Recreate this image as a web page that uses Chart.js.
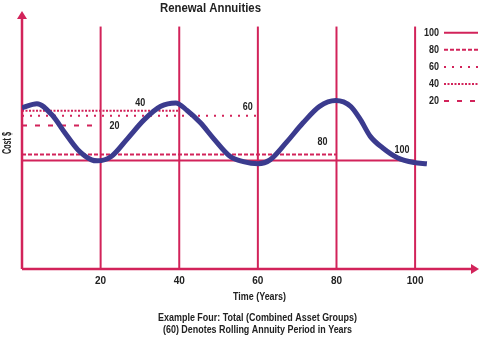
<!DOCTYPE html>
<html lang="en">
<head>
<meta charset="UTF-8">
<title>Renewal Annuities</title>
<script src="https://cdn.jsdelivr.net/npm/chart.js"></script>
<style>
  html, body { margin: 0; padding: 0; background: #fff; }
</style>
</head>
<body>
<canvas id="chart" width="484" height="339"></canvas>
<script>
// total cost curve (years, cost)
const years = [0, 3.8, 7.6, 10.9, 14.2, 17.7, 19.2, 22.7, 26.8, 31.1, 35.3, 39.1, 42.0, 45.4, 48.8, 53.0, 56.3, 60.1, 63.1, 67.2, 71.5, 75.7, 79.8, 83.6, 86.1, 88.6, 91.7, 95.5, 99.7, 103];
const cost = [66.5, 68.2, 63.6, 56.2, 49.2, 45.0, 44.6, 46.4, 53.7, 61.6, 67.1, 68.5, 65.4, 60.3, 53.7, 46.4, 44.3, 43.4, 45.0, 52.1, 60.3, 67.1, 69.5, 67.1, 61.6, 54.7, 50.0, 45.9, 43.9, 43.4];

// rolling annuity periods (years) and the flat cost level of each
const periods = [100, 80, 60, 40, 20];
const levels = [44.8, 47.2, 63.2, 65.3, 59.2];

// vertical period markers
const markerYears = [20, 40, 60, 80, 100];
const markerTop = 100;

const RED = '#d2235a';
const NAVY = '#3b3b8e';
const INK = '#222';
const NARROW = "'Liberation Sans Narrow', 'Arial Narrow', 'Liberation Sans', Arial, sans-serif";
const FONT = "'Liberation Sans', Arial, sans-serif";
const dashFor = { 100: [], 80: [4, 2], 60: [2, 6], 40: [2, 1.5], 20: [5, 8] };

const datasets = [];
datasets.push({
    label: 'Total',
    data: years.map((x, i) => ({ x: x, y: cost[i] })),
    borderColor: NAVY,
    borderWidth: 5,
    cubicInterpolationMode: 'monotone',
    pointRadius: 0,
    order: 0
});
periods.forEach((p, i) => {
    datasets.push({
        label: String(p),
        data: [{ x: 0, y: levels[i] }, { x: p, y: levels[i] }],
        borderColor: RED,
        borderWidth: 2,
        borderDash: dashFor[p],
        pointRadius: 0,
        order: 2
    });
});
markerYears.forEach(m => {
    datasets.push({
        label: 'm' + m,
        data: [{ x: m, y: 0 }, { x: m, y: markerTop }],
        borderColor: RED,
        borderWidth: 2,
        pointRadius: 0,
        order: 1
    });
});

function text(ctx, str, x, y, font, maxW, align) {
    ctx.font = font;
    ctx.textAlign = align || 'center';
    ctx.textBaseline = 'middle';
    ctx.fillStyle = INK;
    ctx.fillText(str, x, y, maxW);
}

const decor = {
    id: 'decor',
    beforeDatasetsDraw(chart) {
        const ctx = chart.ctx, a = chart.chartArea;
        ctx.save();
        ctx.strokeStyle = RED;
        ctx.fillStyle = RED;
        ctx.lineWidth = 2.5;
        ctx.beginPath();
        ctx.moveTo(a.left, a.bottom);
        ctx.lineTo(a.left, a.top + 4);
        ctx.moveTo(a.left, a.bottom);
        ctx.lineTo(a.right - 4, a.bottom);
        ctx.stroke();
        // arrow heads
        ctx.beginPath();
        ctx.moveTo(a.left, a.top - 1);
        ctx.lineTo(a.left - 5, a.top + 7);
        ctx.lineTo(a.left + 5, a.top + 7);
        ctx.closePath();
        ctx.fill();
        ctx.beginPath();
        ctx.moveTo(a.right + 1, a.bottom);
        ctx.lineTo(a.right - 7, a.bottom - 5);
        ctx.lineTo(a.right - 7, a.bottom + 5);
        ctx.closePath();
        ctx.fill();
        ctx.restore();
    },
    afterDraw(chart) {
        const ctx = chart.ctx, xs = chart.scales.x, ys = chart.scales.y;
        ctx.save();
        text(ctx, 'Renewal Annuities', 210.5, 8.5, 'bold 12.5px ' + FONT, 101);
        text(ctx, 'Time (Years)', 259.5, 297.5, 'bold 10.5px ' + FONT, 53);
        text(ctx, 'Example Four: Total (Combined Asset Groups)', 257.5, 318.5, 'bold 10.5px ' + FONT, 199);
        text(ctx, '(60) Denotes Rolling Annuity Period in Years', 257.5, 330.5, 'bold 10.5px ' + FONT, 189);

        ctx.save();
        ctx.translate(8, 143);
        ctx.rotate(-Math.PI / 2);
        text(ctx, 'Cost $', 0, 0, 'bold 12px ' + FONT, 22);
        ctx.restore();

        // period labels near the end of each level line
        const offs = { 100: [-13, -10], 80: [-14, -12], 60: [-10, -9], 40: [-39, -8], 20: [14, 1] };
        periods.forEach((p, i) => {
            const px = xs.getPixelForValue(p) + offs[p][0];
            const py = ys.getPixelForValue(levels[i]) + offs[p][1];
            text(ctx, String(p), px, py, 'bold 10.5px ' + FONT, p === 100 ? 15 : 10);
        });

        // legend
        periods.forEach((p, i) => {
            const ly = 32.7 + i * 17.1;
            text(ctx, String(p), 439, ly, 'bold 10.5px ' + FONT, p === 100 ? 15 : 10, 'right');
            ctx.strokeStyle = RED;
            ctx.lineWidth = 2;
            ctx.setLineDash(dashFor[p]);
            ctx.beginPath();
            ctx.moveTo(444, ly);
            ctx.lineTo(478, ly);
            ctx.stroke();
        });
        ctx.setLineDash([]);
        ctx.restore();
    }
};

new Chart(document.getElementById('chart'), {
    type: 'line',
    data: { datasets: datasets },
    options: {
        responsive: false,
        animation: false,
        layout: { padding: { top: 12, right: 2, left: 22, bottom: 0 } },
        plugins: { legend: { display: false }, tooltip: { enabled: false } },
        scales: {
            x: {
                type: 'linear',
                min: 0,
                max: 116,
                grid: { display: false, drawTicks: false },
                border: { display: false },
                ticks: {
                    stepSize: 20,
                    autoSkip: false,
                    maxRotation: 0,
                    padding: 6,
                    color: INK,
                    font: { family: NARROW, size: 10, weight: 'bold' },
                    callback: v => (v > 0 && v <= 100) ? v : ''
                },
                afterFit: s => { s.height = 70; }
            },
            y: {
                display: false,
                min: 0,
                max: 106
            }
        }
    },
    plugins: [decor]
});
</script>
</body>
</html>
